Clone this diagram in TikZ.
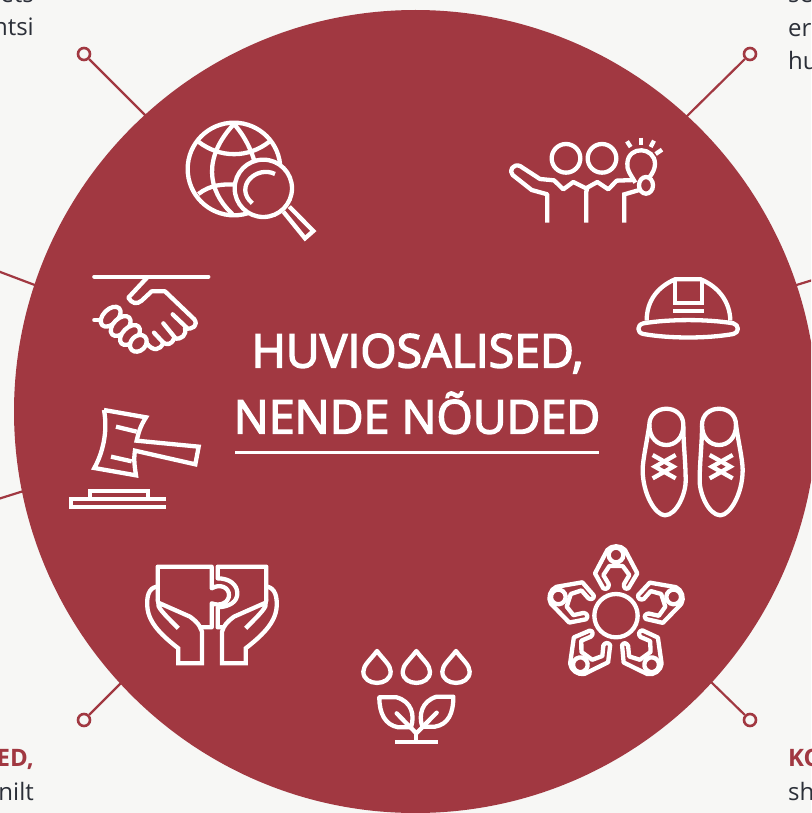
\documentclass[tikz,border=0pt]{standalone}
\usepackage{fontspec}
\setmainfont{Open Sans}
\newfontfamily\titlefont[FakeBold=3]{Open Sans}
\definecolor{wine}{HTML}{A13841}
\definecolor{paper}{HTML}{F7F7F5}
\definecolor{ink}{HTML}{2B2F38}
\tikzset{
  pin/.style={circle,draw=wine,line width=2.6pt,minimum size=12pt,inner sep=0pt},
  lead/.style={draw=wine,line width=2.2pt},
  icon/.style={draw=white,line width=4.3pt,line join=miter},
  iconr/.style={draw=white,line width=4.3pt,line join=round,line cap=round},
  zoomed/.style={x=0.33333pt,y=-0.33333pt},
  sidetext/.style={font=\fontsize{24}{24}\selectfont,text=ink,inner sep=0pt},
  sidebold/.style={font=\fontsize{24}{24}\selectfont\bfseries,text=wine,inner sep=0pt},
  titletext/.style={font=\titlefont\fontsize{46.5}{46.5}\selectfont,text=white,inner sep=0pt,anchor=base}
}
\begin{document}
\begin{tikzpicture}[x=1pt,y=-1pt]
\useasboundingbox (0,0) rectangle (811,813);
\fill[paper] (0,0) rectangle (811,813);
\clip (0,0) rectangle (811,813);
% side text
\node[sidetext,anchor=base east] (t1) at (34,35.5) {ntsi};
\node[sidetext,anchor=base east] (t0) at (34,3) {ets};
\node[sidetext,anchor=base west] (t2) at (788,36.5) {er};
\node[sidetext,anchor=base west] (t3) at (788,69.5) {hu};
\node[sidetext,anchor=base west] (t4) at (788,3) {se};
\node[sidebold,anchor=base east] (t5) at (34,766) {ED,};
\node[sidetext,anchor=base east] (t6) at (34,800) {nilt};
\node[sidebold,anchor=base west] (t7) at (788,766) {KO};
\node[sidetext,anchor=base west] (t8) at (788,800) {sh};
% connectors
\node[pin] (p1) at (84,54) {};
\node[pin] (p2) at (750,54) {};
\node[pin] (p3) at (84,720) {};
\node[pin] (p4) at (750,720) {};
\coordinate (e1) at (150,120);
\coordinate (e2) at (683,120);
\coordinate (e3) at (125,679);
\coordinate (e4) at (708,679);
\coordinate (l1) at (-5,270);
\coordinate (l1e) at (40,287);
\coordinate (l2) at (-5,500);
\coordinate (l2e) at (30,489);
\coordinate (r1) at (816,279);
\coordinate (r1e) at (790,287);
\draw[lead] (p1) -- (e1);
\draw[lead] (p2) -- (e2);
\draw[lead] (p3) -- (e3);
\draw[lead] (p4) -- (e4);
\draw[lead] (l1) -- (l1e);
\draw[lead] (l2) -- (l2e);
\draw[lead] (r1) -- (r1e);
% hub
\node[circle,fill=wine,minimum size=803pt,inner sep=0pt] (hub) at (415.5,411.5) {};
% title
\node[titletext] (title1) at (417.5,367.5) {HUVIOSALISED,};
\node[titletext] (title2) at (417,433.5) {NENDE NÕUDED};
\coordinate (ua) at (235,452.5);
\coordinate (ub) at (599,452.5);
\draw[draw=white,line width=2.2pt] (ua) -- (ub);
% globe
\begin{scope}[shift={(0,0)},zoomed]
\draw[icon] (702,507) circle (139);
\draw[icon] (702,372) .. controls (610,470) and (620,570) .. (697,642);
\draw[icon] (702,372) .. controls (735,410) and (755,450) .. (768,500);
\draw[icon] (595,425) .. controls (660,475) and (745,475) .. (808,425);
\draw[icon] (595,582) .. controls (630,555) and (670,550) .. (715,555);
\draw[icon] (850,635) -- (915,715) -- (940,693) -- (868,620);
\draw[icon,fill=wine] (790,565) circle (86);
\draw[icon] (825,522) .. controls (770,495) and (700,560) .. (757,610);
\end{scope}
% team
\begin{scope}[shift={(480,0)},zoomed]
\draw[icon] (258,475) circle (43);
\draw[icon] (366,475) circle (43);
\draw[icon] (466,548) .. controls (450,520) and (440,510) .. (442,490) .. controls (445,435) and (525,440) .. (525,492) .. controls (525,505) and (518,520) .. (508,532);
\draw[icon] (498,556) ellipse (21 and 25);
\draw[icon] (441,424) -- (452,441);
\draw[icon] (482,413) -- (482,434);
\draw[icon] (522,422) -- (512,441);
\draw[icon] (546,449) -- (527,462);
\draw[icon,line join=round] (202,668) -- (202,583) -- (155,570) -- (98,525) .. controls (85,512) and (100,490) .. (120,498) -- (180,537) -- (222,541) -- (250,568) -- (280,546) -- (318,565) -- (352,546) -- (385,568) -- (410,542) -- (462,540);
\draw[icon] (319,668) -- (319,575) -- (322,563);
\draw[icon] (433,668) -- (433,583) -- (478,570);
\end{scope}
% helmet
\begin{scope}[shift={(480,0)},zoomed]
\draw[iconr] (490,970) .. controls (570,957) and (680,957) .. (760,970) .. controls (778,975) and (778,998) .. (760,1002) .. controls (680,1016) and (570,1016) .. (490,1002) .. controls (470,998) and (470,975) .. (490,970) -- cycle;
\draw[icon] (500,962) .. controls (500,900) and (535,860) .. (585,838) -- (662,838) .. controls (715,860) and (750,905) .. (751,962);
\draw[icon] (585,840) -- (585,910) -- (666,910) -- (666,840);
\draw[icon] (579,933) -- (672,933);
\end{scope}
% handshake
\begin{scope}[shift={(0,260)},zoomed]
\draw[iconr] (283,50) -- (625,50);
\draw[iconr] (442,52) -- (385,113) .. controls (395,130) and (410,135) .. (425,122) -- (455,94) -- (495,94) -- (583,178) .. controls (595,195) and (580,210) .. (555,205) .. controls (560,225) and (545,240) .. (522,235) .. controls (515,255) and (500,255) .. (490,248) .. controls (480,272) and (460,275) .. (440,250);
\draw[iconr] (518,163) -- (560,203);
\draw[iconr] (490,190) -- (525,233);
\draw[iconr] (462,218) -- (490,248);
\draw[iconr] (283,180) -- (305,180);
\foreach \cx/\cy/\ea in {332/170/36,362/198/36,390/225/36,415/250/28}{
\draw[iconr,fill=wine,rotate around={45:(\cx,\cy)}] (\cx,\cy) ellipse [x radius=\ea,y radius=22];
}
\end{scope}
% gavel
\begin{scope}[shift={(0,260)},zoomed]
\draw[icon] (312,450) -- (438,472) .. controls (420,500) and (415,520) .. (410,542) -- (596,560) -- (586,613) -- (405,572) .. controls (400,600) and (405,625) .. (408,646) -- (283,624) .. controls (305,585) and (325,520) .. (312,450);
\draw[icon] (348,500) -- (410,515);
\draw[icon] (333,590) -- (395,604);
\draw[icon] (498,717) -- (214,717) -- (214,740) -- (498,740);
\draw[icon] (270,715) -- (270,692) -- (443,692) -- (443,715);
\end{scope}
% shoes
\begin{scope}[shift={(620,390)},zoomed]
\foreach \sx/\dx in {1/0,-1/436}{
\begin{scope}[shift={(\dx*0.33333pt,0pt)},xscale=\sx]
\draw[iconr] (88,105) .. controls (88,40) and (190,40) .. (190,105) .. controls (190,185) and (88,185) .. (88,105) -- cycle;
\draw[iconr] (88,105) .. controls (80,160) and (68,210) .. (68,240) .. controls (68,310) and (105,375) .. (135,376) .. controls (170,375) and (198,310) .. (197,270) .. controls (197,220) and (190,160) .. (190,110);
\draw[icon] (98,195) -- (160,230) -- (98,265);
\draw[icon] (167,195) -- (105,230) -- (167,265);
\end{scope}}
\end{scope}
% circle of people
\begin{scope}[shift={(530,530)},zoomed]
\draw[icon] (258,257) circle (65);
\foreach \a in {0,72,144,216,288}{
\begin{scope}[rotate around={\a:(258,257)}]
\draw[icon] (258,75) circle (22);
\draw[iconr] (232,60) .. controls (245,45) and (272,45) .. (285,60) -- (322,130) -- (295,175) .. controls (285,180) and (280,170) .. (282,162) -- (298,135) -- (278,108) -- (238,108) -- (220,135) -- (236,162) .. controls (238,172) and (230,180) .. (220,175) -- (195,130) -- (232,60);
\end{scope}}
\end{scope}
% puzzle hands
\begin{scope}[shift={(0,550)},zoomed]
\draw[iconr,line cap=butt] (473,155) -- (473,50) -- (635,50) -- (635,115) .. controls (660,100) and (687,112) .. (687,135) .. controls (687,158) and (660,170) .. (635,160) -- (635,232) -- (595,232);
\draw[iconr,line cap=butt] (672,232) -- (653,232) -- (653,172) .. controls (690,170) and (712,155) .. (712,130) .. controls (712,105) and (690,85) .. (653,85) -- (653,50) -- (799,50) -- (799,155);
\draw[icon] (470,110) .. controls (445,115) and (440,140) .. (442,170) .. controls (445,220) and (490,260) .. (535,295) -- (535,340) -- (606,340) -- (606,245) .. controls (600,225) and (590,215) .. (570,200) -- (475,158) .. controls (470,170) and (490,190) .. (535,235);
\draw[icon] (802,110) .. controls (825,115) and (832,140) .. (830,170) .. controls (827,220) and (782,260) .. (737,295) -- (737,340) -- (666,340) -- (666,245) .. controls (672,225) and (682,215) .. (702,200) -- (797,158) .. controls (802,170) and (782,190) .. (737,235);
\end{scope}
% plant
\begin{scope}[shift={(340,630)},zoomed]
\foreach \c in {111,229,348}{
\draw[iconr] (\c,63) .. controls (\c-20,90) and (\c-41,105) .. (\c-41,125) .. controls (\c-41,170) and (\c+41,170) .. (\c+41,125) .. controls (\c+41,105) and (\c+20,90) .. (\c,63) -- cycle;
}
\draw[iconr] (118,202) -- (170,202) .. controls (215,215) and (225,255) .. (213,292) -- (175,292) .. controls (135,285) and (118,250) .. (118,202) -- cycle;
\draw[iconr] (340,200) -- (290,200) .. controls (245,213) and (235,255) .. (247,290) -- (285,290) .. controls (325,283) and (340,250) .. (340,200) -- cycle;
\draw[iconr] (170,250) -- (229,310) -- (290,248);
\draw[icon] (229,310) -- (229,335);
\draw[icon] (165,337) -- (293,337);
\end{scope}
\end{tikzpicture}
\end{document}
